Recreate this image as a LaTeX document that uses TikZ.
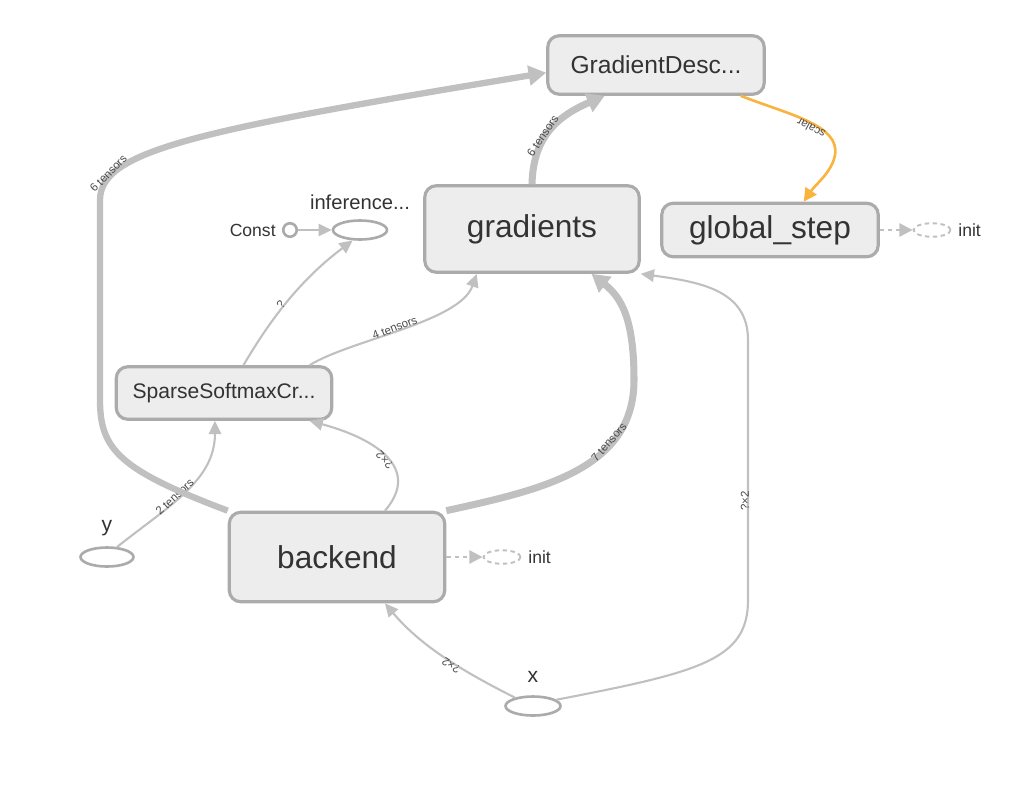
\documentclass[tikz,border=0pt]{standalone}
\usepackage{fontspec}
\setmainfont{Liberation Sans}
\usepackage{tikz}
\usetikzlibrary{shapes.geometric}
\usetikzlibrary{arrows.meta, positioning, calc}

\definecolor{opfill}{HTML}{EDEDED}
\definecolor{opline}{HTML}{ABABAB}
\definecolor{tsrgray}{HTML}{C0C0C0}
\definecolor{refcol}{HTML}{F9B440}
\definecolor{txtcol}{HTML}{333333}
\definecolor{lblcol}{HTML}{4A4A4A}

\tikzset{
    opbox/.style={draw=opline, line width=1.8pt, fill=opfill, rounded corners=6.5pt,
        inner sep=0pt, text=txtcol},
    leaf/.style={ellipse, draw=opline, line width=1.5pt, fill=white, inner sep=0pt,
        minimum height=0.38cm},
    initleaf/.style={ellipse, draw=tsrgray, line width=1.1pt, dashed, dash pattern=on 2.5pt off 2pt,
        inner sep=0pt, minimum width=0.74cm, minimum height=0.27cm},
    tsr/.style={draw=tsrgray, line width=1.2pt, -{Triangle[length=7.5pt, width=7pt]}},
    tsrfat/.style={draw=tsrgray, line width=3.6pt, -{Triangle[length=10pt, width=11pt]}},
    refline/.style={draw=refcol, line width=1.5pt, -{Triangle[length=7.5pt, width=7.5pt]}},
    ctrldep/.style={draw=tsrgray, line width=1.3pt, dash pattern=on 2.5pt off 2.2pt,
        -{Triangle[length=7.5pt, width=7.5pt]}},
    lbl/.style={sloped, allow upside down, anchor=base, inner sep=0pt, yshift=-0.5pt,
        font=\fontsize{6.5pt}{7pt}\selectfont, text=lblcol},
    nametxt/.style={text=txtcol, inner sep=0pt}
}

\begin{document}
\begin{tikzpicture}[x=0.02cm, y=-0.02cm]
    \useasboundingbox (0,0) rectangle (1024,802);

    % op nodes
    \node[opbox, minimum width=4.33cm, minimum height=1.17cm,
        font=\fontsize{14pt}{16pt}\selectfont] (gd) at (656,65) {GradientDesc...};
    \node[opbox, minimum width=4.29cm, minimum height=1.73cm,
        font=\fontsize{18pt}{20pt}\selectfont] (grads) at (532,229) {gradients};
    \node[opbox, minimum width=4.33cm, minimum height=1.07cm,
        font=\fontsize{18pt}{20pt}\selectfont] (gstep) at (770,230) {global\_step};
    \node[opbox, minimum width=4.31cm, minimum height=1.05cm,
        font=\fontsize{12pt}{14pt}\selectfont] (sparse) at (224,393) {SparseSoftmaxCr...};
    \node[opbox, minimum width=4.31cm, minimum height=1.79cm,
        font=\fontsize{18pt}{20pt}\selectfont] (backend) at (337,557) {backend};

    % leaves
    \node[leaf, minimum width=1.08cm] (inf) at (360,230) {};
    \node[nametxt, font=\fontsize{11.5pt}{13pt}\selectfont] (inflbl) at (360,202) {inference...};
    \node[circle, draw=opline, line width=1.5pt, fill=white, minimum size=0.27cm, inner sep=0pt] (const) at (290,230) {};
    \node[nametxt, font=\fontsize{10pt}{12pt}\selectfont, anchor=east] (constlbl) at (276,230) {Const};
    \node[leaf, minimum width=1.06cm] (y) at (107,557) {};
    \node[nametxt, font=\fontsize{12pt}{14pt}\selectfont] (ylbl) at (107,528) {y};
    \node[leaf, minimum width=1.1cm] (x) at (533,706) {};
    \node[nametxt, font=\fontsize{12pt}{14pt}\selectfont] (xlbl) at (533,677) {x};
    \node[initleaf] (init1) at (932,230) {};
    \node[nametxt, font=\fontsize{10pt}{12pt}\selectfont, anchor=west] (init1lbl) at (958,230) {init};
    \node[initleaf] (init2) at (502,557) {};
    \node[nametxt, font=\fontsize{10pt}{12pt}\selectfont, anchor=west] (init2lbl) at (528,557) {init};

    % thin edges
    \draw[tsr] (const) -- (inf);
    \draw[tsr] (sparse.55) .. controls (270,320) and (300,280) .. (inf.235)
        node[lbl, pos=0.45] {?};
    \draw[tsr] (sparse.18) .. controls (350,340) and (460,322) .. (grads.219)
        node[lbl, pos=0.47] {4 tensors};
    \draw[tsr] (y.45) .. controls (170,505) and (215,480) .. (sparse.252)
        node[lbl, pos=0.42] {2 tensors};
    \draw[tsr] (backend.44) .. controls (420,470) and (380,440) .. (sparse.-18)
        node[lbl, pos=0.5] {?×2};
    \draw[tsr] (x.155) .. controls (460,670) and (420,645) .. (backend.-44)
        node[lbl, pos=0.42] {?×2};
    \draw[tsr] (x.15) .. controls (700,672) and (748,660) .. (748,600)
        -- (748,340) node[lbl, pos=0.38] {?×2}
        .. controls (748,290) and (700,282) .. (grads.south east);

    % fat edges
    \draw[tsrfat] (backend.north west) .. controls (120,470) and (100,450) .. (100,400)
        -- (100,200) .. controls (100,150) and (200,130) .. (gd.184)
        node[lbl, pos=0.18] {6 tensors};
    \draw[tsrfat, line width=4pt] (grads.north) .. controls (533,135) and (560,115) .. (gd.211)
        node[lbl, pos=0.4] {6 tensors};
    \draw[tsrfat, line width=4pt] (backend.north east) .. controls (540,490) and (634,470) .. (634,380)
        node[lbl, pos=0.7] {7 tensors}
        .. controls (634,320) and (622,298) .. (grads.-37);

    % ref edge
    \draw[refline] (gd.-20) .. controls (790,115) and (840,125) .. (835,155)
        node[lbl, pos=0.55, rotate=180] {scalar}
        .. controls (832,172) and (815,185) .. (gstep.40);

    % control deps
    \draw[ctrldep] (gstep.east) -- (init1.west);
    \draw[ctrldep] (backend.east) -- (init2.west);
\end{tikzpicture}
\end{document}
